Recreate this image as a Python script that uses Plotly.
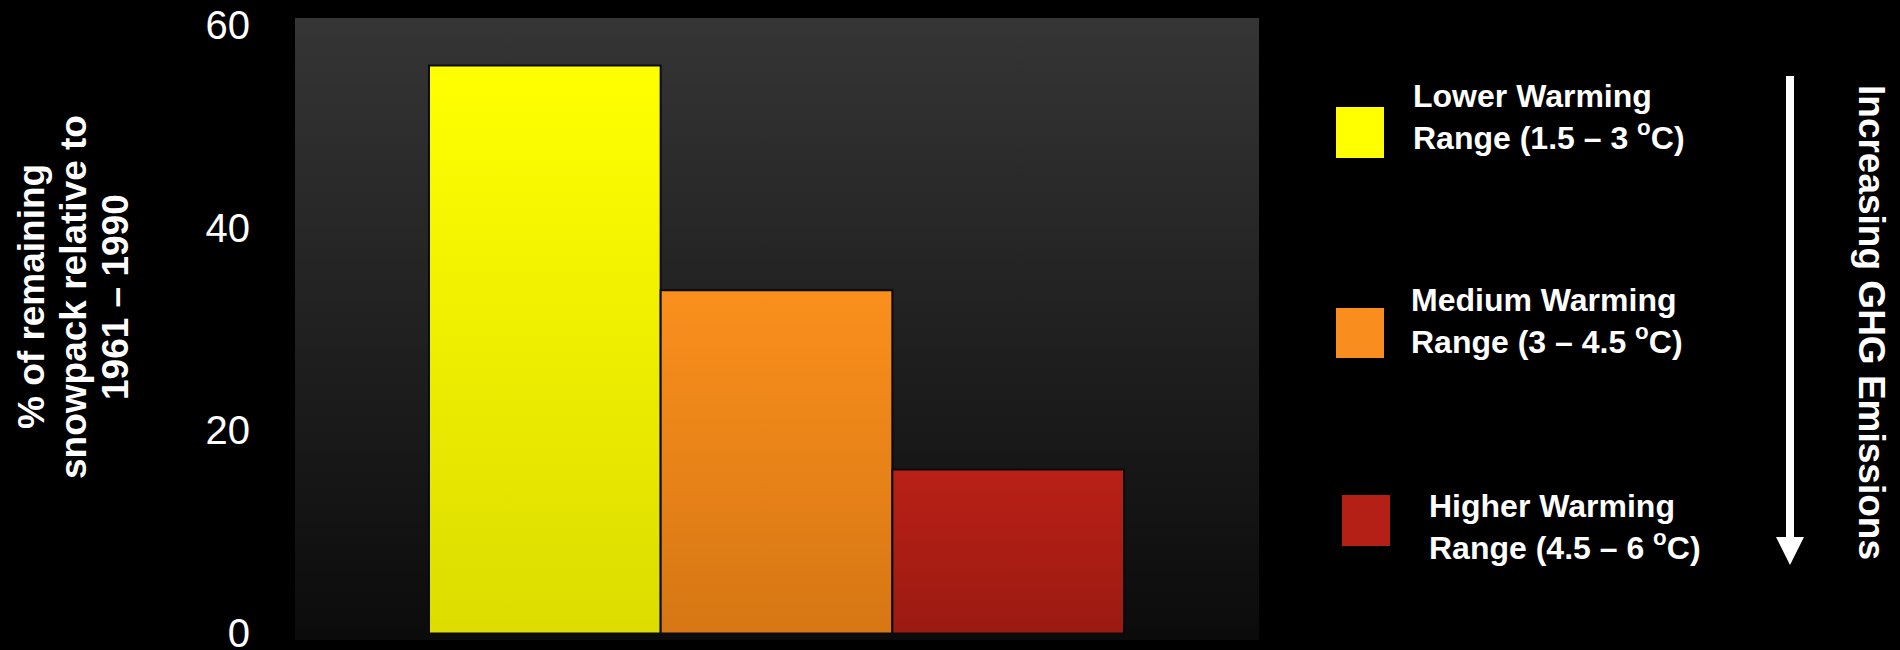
import base64
import plotly.graph_objects as go

# Snowpack remaining under three warming scenarios
scenarios = ["Lower Warming<br>Range (1.5 – 3 <sup>o</sup>C)",
             "Medium Warming<br>Range (3 – 4.5 <sup>o</sup>C)",
             "Higher Warming<br>Range (4.5 – 6 <sup>o</sup>C)"]
snowpack_pct = [56.1, 33.9, 16.2]
top_colors = ["#ffff00", "#fa8f1c", "#b92016"]
bottom_colors = ["#dcdc00", "#d67714", "#9b1a12"]
key_colors = ["#ffff00", "#f98d1d", "#b41f16"]
y_ticks = [0, 20, 40, 60]
y_title_lines = ["% of remaining", "snowpack relative to", "1961 – 1990"]

W, H = 1900, 650
FONT = "Liberation Sans, Arial, sans-serif"


def fx(px):
    return px / W


def fy(py):
    return 1 - py / H


fig = go.Figure()

# bars drawn as filled rectangles so each can carry a vertical gradient
bar_w = 1.0
for i, (name, v) in enumerate(zip(scenarios, snowpack_pct)):
    x0, x1 = i - bar_w / 2, i + bar_w / 2
    fig.add_trace(go.Scatter(
        x=[x0, x1, x1, x0, x0],
        y=[0, 0, v, v, 0],
        mode="lines",
        fill="toself",
        line=dict(color="#0a0a0a", width=2),
        fillgradient=dict(
            type="vertical",
            colorscale=[[0, bottom_colors[i]], [1, top_colors[i]]],
            start=0,
            stop=v,
        ),
        name=name.replace("<br>", " "),
        showlegend=False,
        hoverinfo="skip",
    ))

# dark panel behind the bars (vertical gradient)
svg = ('<svg xmlns="http://www.w3.org/2000/svg" width="10" height="100" '
       'preserveAspectRatio="none"><defs><linearGradient id="g" x1="0" y1="0" '
       'x2="0" y2="1"><stop offset="0" stop-color="#353535"/>'
       '<stop offset="1" stop-color="#0b0b0b"/></linearGradient></defs>'
       '<rect width="10" height="100" fill="url(#g)"/></svg>')
panel_src = "data:image/svg+xml;base64," + base64.b64encode(svg.encode()).decode()

panel_left, panel_right, panel_top, panel_bottom = 295, 1259, 18, 640

fig.add_layout_image(dict(
    source=panel_src, xref="paper", yref="paper",
    x=fx(panel_left), y=fy(panel_top),
    sizex=fx(panel_right) - fx(panel_left), sizey=fy(panel_top) - fy(panel_bottom),
    xanchor="left", yanchor="top", sizing="stretch", layer="below",
))

# key: coloured squares with bold labels
key_boxes = [(1336, 107, 1384, 158), (1336, 308, 1384, 358), (1342, 495, 1390, 546)]
key_text = [(1411, 117), (1409, 321), (1427, 527)]
shapes = []
annotations = []
for (bx0, by0, bx1, by1), (tx, ty), col, label in zip(key_boxes, key_text, key_colors, scenarios):
    shapes.append(dict(type="rect", xref="paper", yref="paper",
                       x0=fx(bx0), x1=fx(bx1), y0=fy(by1), y1=fy(by0),
                       fillcolor=col, line=dict(width=0)))
    annotations.append(dict(text=label, xref="paper", yref="paper",
                            x=fx(tx), y=fy(ty), xanchor="left", yanchor="middle",
                            align="left", showarrow=False,
                            font=dict(family=FONT, size=32, color="white", weight="bold")))

# downward arrow for increasing emissions
arrow_x = 1790
shapes.append(dict(type="line", xref="paper", yref="paper",
                   x0=fx(arrow_x), x1=fx(arrow_x), y0=fy(76), y1=fy(540),
                   line=dict(color="white", width=8)))
shapes.append(dict(type="path", xref="paper", yref="paper",
                   path=(f"M {fx(arrow_x - 14)} {fy(537)} L {fx(arrow_x + 14)} {fy(537)} "
                         f"L {fx(arrow_x)} {fy(565)} Z"),
                   fillcolor="white", line=dict(width=0)))

annotations.append(dict(text="Increasing GHG Emissions", xref="paper", yref="paper",
                        x=fx(1871), y=fy(322), xanchor="center", yanchor="middle",
                        textangle=90, showarrow=False,
                        font=dict(family=FONT, size=37, color="white", weight="bold")))

# y-axis title, one rotated line per text row
for line_x, line in zip([31, 73, 115], y_title_lines):
    annotations.append(dict(text=line, xref="paper", yref="paper",
                            x=fx(line_x), y=fy(297), xanchor="center", yanchor="middle",
                            textangle=-90, showarrow=False,
                            font=dict(family=FONT, size=37, color="white", weight="bold")))

px_per_unit = (633.5 - 26) / 60.0
y_lo = -(panel_bottom - 633.5) / px_per_unit
y_hi = 60 + (26 - panel_top) / px_per_unit

bar_px = 231.7
x_lo = -0.5 - (429 - panel_left) / bar_px
x_hi = 2.5 + (panel_right - 1124) / bar_px

fig.update_layout(
    template="none",
    width=W, height=H,
    margin=dict(l=0, r=0, t=0, b=0, autoexpand=False),
    paper_bgcolor="black",
    plot_bgcolor="rgba(0,0,0,0)",
    showlegend=False,
    hovermode=False,
    shapes=shapes,
    annotations=annotations,
    xaxis=dict(domain=[fx(panel_left), fx(panel_right)], range=[x_lo, x_hi],
               showgrid=False, zeroline=False, showticklabels=False,
               showline=False, ticks="", fixedrange=True, automargin=False),
    yaxis=dict(domain=[fy(panel_bottom), fy(panel_top)], range=[y_lo, y_hi],
               tickvals=y_ticks, ticktext=[str(t) for t in y_ticks],
               showgrid=False, zeroline=False, showline=False, ticks="",
               ticklabelstandoff=44, ticklabelshift=-1, ticklabeloverflow="allow",
               automargin=False,
               tickfont=dict(family=FONT, size=40, color="white"),
               fixedrange=True),
)

fig.write_html("out.html")
